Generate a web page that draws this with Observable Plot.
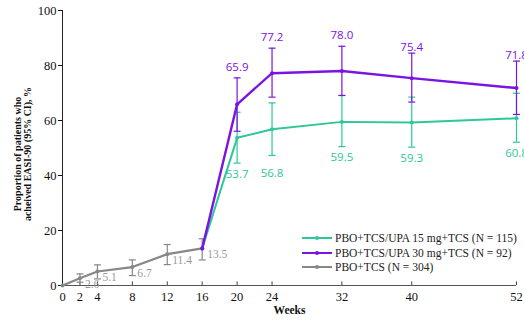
<!DOCTYPE html>
<html><head><meta charset="utf-8">
<script src="https://cdn.jsdelivr.net/npm/d3@7"></script>
<script src="https://cdn.jsdelivr.net/npm/@observablehq/plot@0.6"></script>
<style>
body{margin:0;background:#fff;}
#wrap{position:relative;width:524px;height:326px;}
#legend{position:absolute;left:302px;top:231px;font-size:11.5px;color:#222;line-height:14.5px;}
#legend div{display:flex;align-items:center;white-space:nowrap;}
#legend svg{margin-right:3px;}
</style></head>
<body><div id="wrap"><div id="legend"></div></div>
<script>
const xTicks = [0,2,4,8,12,16,20,24,32,40,52];
const yTicks = [0,20,40,60,80,100];

const placeboWeeks = [0,2,4,8,12,16];
const placeboVals  = [0,2.6,5.1,6.7,11.4,13.5];
const placeboLo    = [null,1.2,2.4,3.6,7.6,9.3];
const placeboHi    = [null,4.2,7.5,9.3,14.9,17.0];

const activeWeeks = [16,20,24,32,40,52];
const upa15Vals = [13.5,53.7,56.8,59.5,59.3,60.8];
const upa15Lo   = [null,44.5,47.3,50.5,50.3,52.1];
const upa15Hi   = [null,63.0,66.4,69.1,68.5,69.9];

const upa30Vals = [13.5,65.9,77.2,78.0,75.4,71.8];
const upa30Lo   = [null,56.1,68.5,69.1,66.7,62.2];
const upa30Hi   = [null,75.5,86.3,87.0,84.5,81.6];

const seriesNames = ["PBO+TCS/UPA 15 mg+TCS (N = 115)","PBO+TCS/UPA 30 mg+TCS (N = 92)","PBO+TCS (N = 304)"];
const colors = ["#2dc79b","#7a14e2","#878787"];

function rows(weeks, vals, lo, hi, s){
  return weeks.map((w,i)=>({week:w, v:vals[i], lo:lo[i], hi:hi[i], s}));
}
const pbo = rows(placeboWeeks, placeboVals, placeboLo, placeboHi, 2);
const u15 = rows(activeWeeks, upa15Vals, upa15Lo, upa15Hi, 0);
const u30 = rows(activeWeeks, upa30Vals, upa30Lo, upa30Hi, 1);

const cap = {draw(ctx,size){ ctx.moveTo(-3.5,0); ctx.lineTo(3.5,0); }};
function errs(data, color){
  const d = data.filter(r=>r.lo!=null);
  return [
    Plot.ruleX(d,{x:"week",y1:"lo",y2:"hi",stroke:color,strokeWidth:1.2}),
    Plot.dot(d,{x:"week",y:"lo",symbol:cap,stroke:color,strokeWidth:1.2,r:3}),
    Plot.dot(d,{x:"week",y:"hi",symbol:cap,stroke:color,strokeWidth:1.2,r:3})
  ];
}
function series(data, color, w){
  return [
    Plot.line(data,{x:"week",y:"v",stroke:color,strokeWidth:w}),
    Plot.dot(data,{x:"week",y:"v",fill:color,r:2})
  ];
}
const sans = "'Segoe UI','Open Sans','DejaVu Sans',sans-serif";
const serif = "'Liberation Serif','DejaVu Serif','Times New Roman',serif";
const lblStyle = {fontSize:11.5, fontFamily:sans};

const chart = Plot.plot({
  width:524, height:326,
  marginLeft:62, marginRight:8, marginTop:10, marginBottom:41,
  style:{fontFamily:serif, fontSize:"12.5px", color:"#111", background:"#fff"},
  x:{domain:[0,52]},
  y:{domain:[0,100]},
  marks:[
    Plot.axisY({ticks:yTicks, tickSize:4, tickPadding:2, label:null, fontSize:12.5, fontFamily:serif}),
    Plot.axisX({ticks:xTicks, tickSize:0, tickPadding:7, label:null, fontSize:12.5, fontFamily:serif}),
    Plot.ruleX(xTicks.filter(t=>t>0),{x:d=>d, y1:0, y2:1.3, stroke:"#444"}),
    Plot.ruleX([0],{stroke:"#222", strokeWidth:1}),
    Plot.ruleY([0],{stroke:"#555", strokeWidth:1.2}),
    ...errs(pbo, colors[2]),
    ...errs(u15, colors[0]),
    ...errs(u30, colors[1]),
    ...series(pbo, colors[2], 2.2),
    ...series(u15, colors[0], 2),
    ...series(u30, colors[1], 2.4),
    Plot.text(pbo.filter(r=>r.week>0),{x:"week",y:"v",text:d=>d.v.toFixed(1),textAnchor:"start",dx:5,dy:6,fill:"#9a9a9a",fontSize:11.5,fontFamily:serif}),
    Plot.text(u30.filter(r=>r.lo!=null && r.week<40),{x:"week",y:"hi",text:d=>d.v.toFixed(1),dy:-11,fill:colors[1],...lblStyle}),
    Plot.text(u30.filter(r=>r.week>=40),{x:"week",y:"hi",text:d=>d.v.toFixed(1),dy:-6,fill:colors[1],...lblStyle}),
    Plot.text(u15.filter(r=>r.week>24),{x:"week",y:"lo",text:d=>d.v.toFixed(1),dy:11,fill:colors[0],...lblStyle}),
    Plot.text(u15.filter(r=>r.week===20),{x:"week",y:"lo",text:d=>d.v.toFixed(1),dy:11,fill:colors[0],...lblStyle}),
    Plot.text(u15.filter(r=>r.week===24),{x:"week",y:"lo",text:d=>d.v.toFixed(1),dy:18,fill:colors[0],...lblStyle}),
    Plot.text(["Proportion of patients who\nacheived EASI-90 (95% CI), %"],{frameAnchor:"left",textAnchor:"middle",rotate:-90,dx:-40,dy:6,lineAnchor:"middle",lineHeight:1.0,fontWeight:"bold",fontSize:10,fontFamily:serif,fill:"#111"}),
    Plot.text(["Weeks"],{frameAnchor:"bottom",dy:28,fontWeight:"bold",fontSize:11.5,fontFamily:serif,fill:"#111"})
  ]
});
document.getElementById("wrap").prepend(chart);

const leg = document.getElementById("legend");
seriesNames.forEach((n,i)=>{
  const div = document.createElement("div");
  div.innerHTML = `<svg width="30" height="10"><line x1="0" x2="30" y1="5" y2="5" stroke="${colors[i]}" stroke-width="2"/><circle cx="15" cy="5" r="2" fill="${colors[i]}"/></svg><span style="font-family:'Liberation Serif','DejaVu Serif',serif">${n}</span>`;
  leg.appendChild(div);
});
</script></body></html>
